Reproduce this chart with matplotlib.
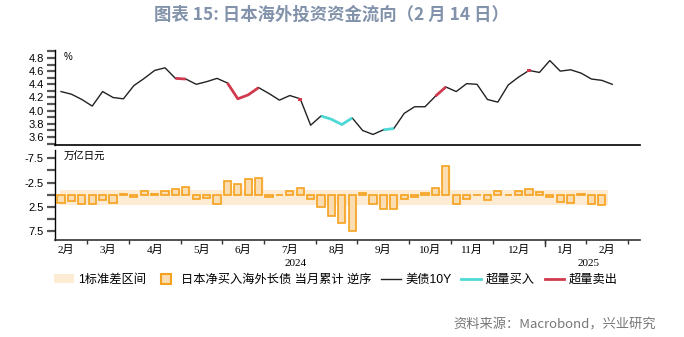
import matplotlib
matplotlib.use("Agg")
import matplotlib.pyplot as plt
from matplotlib.lines import Line2D
from matplotlib.patches import Patch
import numpy as np
import pandas as pd

plt.rcParams['font.family'] = ['Liberation Sans', 'Noto Sans CJK SC', 'DejaVu Sans']
plt.rcParams['axes.unicode_minus'] = False

# ---------------- data ----------------
title = "图表 15: 日本海外投资资金流向（2 月 14 日）"
source = "资料来源：Macrobond，兴业研究"

weeks = pd.date_range("2024-02-12", periods=54, freq="W-MON")  # weekly categories

# US 10Y yield (%)
ust10y = [4.29, 4.25, 4.17, 4.07, 4.29, 4.20, 4.18, 4.38, 4.49, 4.61,
          4.65, 4.49, 4.48, 4.40, 4.44, 4.49, 4.42, 4.18, 4.24, 4.35,
          4.26, 4.16, 4.23, 4.18, 3.78, 3.92, 3.87, 3.79, 3.89, 3.70,
          3.64, 3.71, 3.73, 3.96, 4.06, 4.06, 4.22, 4.36, 4.29, 4.41,
          4.40, 4.17, 4.13, 4.39, 4.51, 4.61, 4.58, 4.76, 4.60, 4.62,
          4.57, 4.48, 4.46, 4.40]

# Japan net purchase of foreign long-term bonds (trillion yen, plotted reversed)
jp_flows = [1.65, 1.3, 1.85, 1.85, 1.0, 1.7, -0.1, 0.55, -0.8, -0.1,
            -0.75, -1.2, -1.55, 0.95, 0.6, 1.95, -2.8, -2.2, -3.2, -3.5,
            0.4, 0.15, -0.75, -1.4, 0.85, 2.45, 4.35, 5.9, 7.5, -0.4,
            2.0, 2.85, 2.85, 0.85, 0.4, -0.45, -1.4, -6.0, 1.9, 0.95,
            0.1, 1.1, -0.8, 0.15, -0.85, -1.2, -0.5, 0.5, 1.4, 1.6,
            -0.1, 1.9, 2.1]

band_lo, band_hi = -0.97, 2.18   # 1 std band

month_labels_fmt = "{}月"
legend_labels = ["1标准差区间", "日本净买入海外长债 当月累计 逆序", "美债10Y", "超量买入", "超量卖出"]

# ---------------- colors ----------------
c_title = "#8192AA"
c_bar_edge = "#F5A21E"
c_bar_face = "#FBDDB3"
c_band = "#FDEBD3"
c_line = "#222222"
c_buy = "#4FD9D6"
c_sell = "#D23B4F"

W, H = 684, 337
fig = plt.figure(figsize=(W / 100, H / 100), dpi=100)

def ax_rect(x0, y0, x1, y1):
    return [x0 / W, 1 - y1 / H, (x1 - x0) / W, (y1 - y0) / H]

ax1 = fig.add_axes(ax_rect(55, 50, 640, 145))
ax2 = fig.add_axes(ax_rect(55, 150, 640, 240))

n_line = len(ust10y)
n_bar = len(jp_flows)
x_line = np.arange(n_line)
x_bar = np.arange(n_bar)
flows = np.array(jp_flows)
yld = np.array(ust10y)

# flags: excessive selling / buying relative to the 1-std band
sell = np.full(n_line, np.nan)
buy = np.full(n_line, np.nan)
for i in range(n_bar):
    if flows[i] < band_lo:
        sell[i] = yld[i]
    elif flows[i] > band_hi:
        buy[i] = yld[i]

xl = (-0.58, 55.67)

# ---- top panel ----
ax1.plot(x_line, yld, color=c_line, lw=1.0, zorder=2)
ax1.plot(x_line, buy, color=c_buy, lw=2.0, zorder=3, solid_capstyle='butt')
ax1.plot(x_line, sell, color=c_sell, lw=2.0, zorder=3, solid_capstyle='butt')
# isolated flagged points drawn as short marks
for arr, col in ((buy, c_buy), (sell, c_sell)):
    for i in range(n_line):
        if not np.isnan(arr[i]):
            prev_nan = i == 0 or np.isnan(arr[i - 1])
            next_nan = i == n_line - 1 or np.isnan(arr[i + 1])
            if prev_nan and next_nan:
                ax1.plot([i - 0.12, i], [yld[i], yld[i]], color=col, lw=2.2, zorder=3)

ax1.set_xlim(*xl)
ax1.set_ylim(3.48, 4.92)
ax1.set_yticks(np.arange(3.6, 4.81, 0.2))
ax1.set_yticks(np.arange(3.5, 4.91, 0.1), minor=True)
ax1.set_yticklabels([f"{v:.1f}" for v in np.arange(3.6, 4.81, 0.2)], fontsize=8)
ax1.tick_params(axis='y', which='both', length=6, width=1.6, color='#555555', pad=2)
ax1.tick_params(axis='x', which='both', length=0, labelbottom=False)
for s in ('top', 'right'):
    ax1.spines[s].set_visible(False)
ax1.spines['left'].set_linewidth(1.0)
ax1.spines['bottom'].set_linewidth(1.2)
ax1.text(0.014, 0.93, "%", transform=ax1.transAxes, fontsize=7, ha='left', va='center')

# ---- bottom panel ----
ax2.fill_between([-0.1, 52.6], band_lo, band_hi, color=c_band, lw=0, zorder=1)
ax2.bar(x_bar + 0.12, flows, width=0.72, bottom=0, color=c_bar_face, alpha=0.35,
        edgecolor='none', zorder=2)
ax2.bar(x_bar, flows, width=0.7, bottom=0, facecolor=c_bar_face, alpha=1.0,
        edgecolor=c_bar_edge, linewidth=1.2, zorder=3)
ax2.set_xlim(*xl)
ax2.set_ylim(9.3, -9.2)
yt = np.arange(-7.5, 7.51, 2.5)
ax2.set_yticks(yt)
ax2.set_yticklabels([("" if abs(v % 5) < 1e-9 else f"{v:.1f}") for v in yt], fontsize=8)
ax2.tick_params(axis='y', length=6, width=1.6, color='#555555', pad=2)
for s in ('top', 'right'):
    ax2.spines[s].set_visible(False)
ax2.spines['left'].set_linewidth(1.0)
ax2.spines['bottom'].set_linewidth(1.2)
ax2.spines['bottom'].set_color('#333333')
ax2.text(0.014, 0.92, "万亿日元", transform=ax2.transAxes, fontsize=7.5, ha='left', va='center')

# month ticks at boundaries between weeks
ext = pd.date_range(weeks[0] - pd.Timedelta(weeks=1), periods=n_line + 3, freq="W-MON")
bounds = []
for k in range(1, len(ext)):
    if ext[k].month != ext[k - 1].month:
        bounds.append((k - 1) - 0.5)
ax2.set_xticks(bounds)
ax2.set_xticklabels([])
ax2.tick_params(axis='x', length=3, width=1.0, color='#333333', direction='out')
year_bound = None
prev = -1.5
xtr = ax2.get_xaxis_transform()
for k in range(1, len(ext)):
    if ext[k].month != ext[k - 1].month:
        b = (k - 1) - 0.5
        mid = (prev + b) / 2
        m = ext[k - 1].month
        ax2.text(mid, -0.05, month_labels_fmt.format(m), transform=xtr,
                 ha='center', va='top', fontsize=8,
                 family=['Liberation Serif', 'Noto Sans CJK SC'])
        if ext[k].year != ext[k - 1].year:
            year_bound = b
        prev = b
# longer tick at year boundary
ax2.plot([year_bound, year_bound], [0, -0.07], transform=xtr,
         color='#333333', lw=1.0, clip_on=False)
for yr, (a, b) in ((2024, (xl[0], year_bound)), (2025, (year_bound, xl[1]))):
    ax2.text((a + b) / 2 - 0.4, -0.215, str(yr), transform=xtr,
             ha='center', va='top', fontsize=8, family=['Liberation Serif'])

# ---- legend ----
handles = [
    Patch(facecolor=c_band, edgecolor='none'),
    Line2D([], [], marker='s', markersize=7, markerfacecolor=c_bar_face,
           markeredgecolor=c_bar_edge, markeredgewidth=1.5, linestyle='none'),
    Line2D([], [], color=c_line, lw=1.0),
    Line2D([], [], color=c_buy, lw=2.0),
    Line2D([], [], color=c_sell, lw=2.0),
]
leg = fig.legend(handles, legend_labels, loc='center left', bbox_to_anchor=(54 / W, 1 - 280 / H),
                 ncol=5, frameon=False, fontsize=8.8, handlelength=1.6, handletextpad=0.4,
                 columnspacing=0.8, borderaxespad=0, borderpad=0)

# ---- title & source ----
fig.text(0.485, 1 - 15 / H, title, ha='center', va='center', fontsize=12.5, fontweight='bold',
         color=c_title, family=['Noto Sans CJK SC'])
fig.text(656 / W, 1 - 325 / H, source, ha='right', va='center', fontsize=9.5,
         color='#777777', family=['Noto Sans CJK SC'])

fig.savefig("out.png", dpi=100)
